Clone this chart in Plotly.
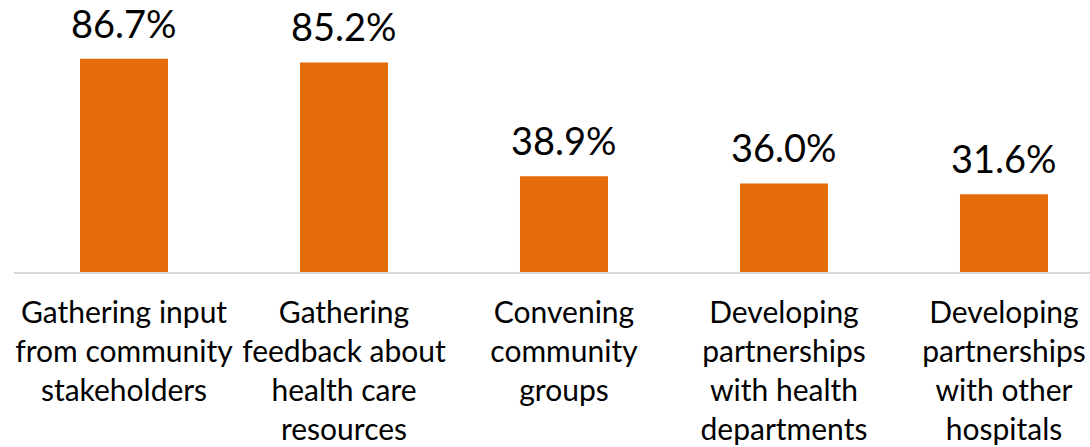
import plotly.graph_objects as go

# Share of hospitals using each community-engagement activity
categories = [
    "Gathering input<br>from community<br>stakeholders",
    "Gathering<br>feedback about<br>health care<br>resources",
    "Convening<br>community<br>groups",
    "Developing<br>partnerships<br>with health<br>departments",
    "Developing<br>partnerships<br>with other<br>hospitals",
]
values = [86.7, 85.2, 38.9, 36.0, 31.6]
value_labels = ["86.7%", "85.2%", "38.9%", "36.0%", "31.6%"]

BAR_COLOR = "#E46C0A"
FONT = "Lato"

fig = go.Figure()
fig.add_trace(go.Bar(
    x=list(range(len(categories))),
    y=values,
    marker=dict(color=BAR_COLOR, line=dict(width=0)),
    width=0.4,
    hoverinfo="skip",
))

for i, (v, lab) in enumerate(zip(values, value_labels)):
    fig.add_annotation(
        x=i, y=v, text=lab, showarrow=False,
        xanchor="center", yanchor="middle", yshift=36,
        font=dict(family=FONT, size=38, color="#000000"),
    )

fig.update_layout(
    width=1090, height=447,
    margin=dict(l=14, r=0, t=26, b=175, autoexpand=False),
    paper_bgcolor="white", plot_bgcolor="white",
    showlegend=False,
    xaxis=dict(
        range=[-0.5, 4.391],
        tickmode="array",
        tickvals=list(range(len(categories))),
        ticktext=categories,
        tickangle=0,
        automargin=False,
        showgrid=False, zeroline=False,
        showline=True, linecolor="#D9D9D9", linewidth=2,
        ticks="", ticklabelstandoff=13,
        tickfont=dict(family=FONT, size=30, color="#000000"),
    ),
    yaxis=dict(
        range=[0, 100],
        visible=False,
        automargin=False,
        showgrid=False, zeroline=False,
    ),
)

fig.write_html("out.html")
